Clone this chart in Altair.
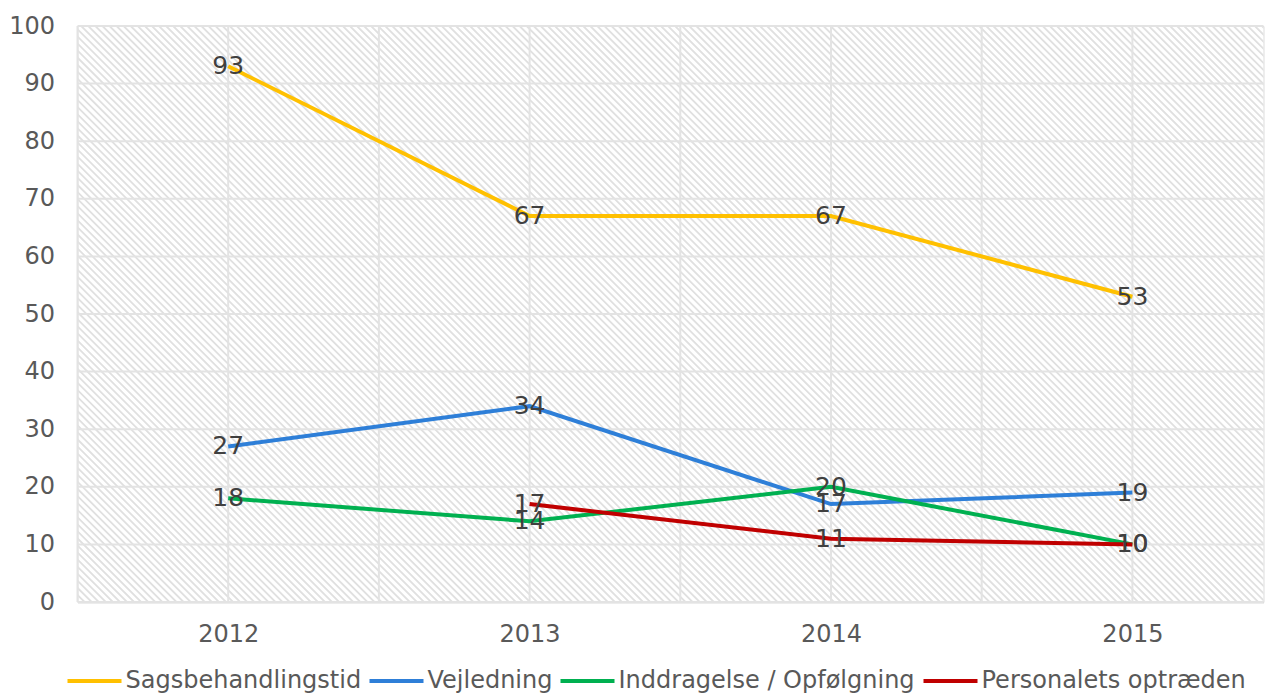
import altair as alt
import pandas as pd
import numpy as np

# ---- data ----
years = [2012, 2013, 2014, 2015]
series_names = ["Sagsbehandlingstid", "Vejledning", "Inddragelse / Opfølgning", "Personalets optræden"]
sagsbehandlingstid = [93, 67, 67, 53]
vejledning = [27, 34, 17, 19]
inddragelse = [18, 14, 20, 10]
personalets = [None, 17, 11, 10]
series_colors = ["#FFC000", "#2E7FD8", "#00B050", "#C00000"]
y_ticks = list(range(0, 101, 10))
x_grid = [2011.5, 2012, 2012.5, 2013, 2013.5, 2014, 2014.5, 2015]

rows = []
for name, vals in zip(series_names, [sagsbehandlingstid, vejledning, inddragelse, personalets]):
    for yr, v in zip(years, vals):
        if v is not None:
            rows.append({"year": yr, "series": name, "value": v, "order": series_names.index(name)})
df = pd.DataFrame(rows)

W, H = 1186, 576
FONT = "DejaVu Sans"
TXT = "#595959"

# ---- background hatch (decoration, pixel space) ----
step = 7.07
x0s = np.arange(-H, W + step, step)
hatch = pd.DataFrame({"hx": x0s, "hy": H, "hx2": x0s + H, "hy2": 0})
hatch_layer = alt.Chart(hatch).mark_rule(color="#e0e0e0", strokeWidth=1.8, clip=True).encode(
    x=alt.X("hx:Q", scale=alt.Scale(domain=[0, W], nice=False, zero=False), axis=None),
    y=alt.Y("hy:Q", scale=alt.Scale(domain=[0, H], nice=False, zero=False), axis=None),
    x2="hx2:Q",
    y2="hy2:Q",
)

xscale = alt.Scale(domain=[2011.5, 2015.435], nice=False, zero=False)
yscale = alt.Scale(domain=[0, 100], nice=False)
x_axis = alt.Axis(values=years, format="d", title=None, grid=False, ticks=False, tickSize=0,
                  domain=True, domainColor="#d9d9d9", domainWidth=2,
                  labelFontSize=24, labelColor=TXT, labelFont=FONT, labelPadding=20)
y_axis = alt.Axis(values=y_ticks, title=None, grid=False, ticks=False, tickSize=0, domain=False,
                  labelFontSize=24, labelColor=TXT, labelFont=FONT, labelPadding=23)

hgrid = alt.Chart(pd.DataFrame({"v": y_ticks})).mark_rule(color="#e3e3e3", strokeWidth=2).encode(
    y=alt.Y("v:Q", scale=yscale, axis=y_axis, title=None)
)
vgrid = alt.Chart(pd.DataFrame({"g": x_grid})).mark_rule(color="#e3e3e3", strokeWidth=2).encode(
    x=alt.X("g:Q", scale=xscale, axis=x_axis, title=None)
)

base = alt.Chart(df)
lines = base.mark_line(strokeWidth=4).encode(
    x=alt.X("year:Q", scale=xscale, axis=x_axis, title=None),
    y=alt.Y("value:Q", scale=yscale, axis=y_axis, title=None),
    color=alt.Color("series:N", scale=alt.Scale(domain=series_names, range=series_colors),
                    legend=alt.Legend(title=None, orient="none", direction="horizontal",
                                      legendX=-12, legendY=626, symbolType="stroke",
                                      symbolSize=2916, symbolStrokeWidth=4,
                                      labelFontSize=24, labelColor=TXT, labelFont=FONT,
                                      labelLimit=0, labelOffset=2, columnPadding=0, columns=4)),
    order="order:Q",
)
labels = base.mark_text(fontSize=25, font=FONT, color="#404040", align="center", baseline="middle").encode(
    x=alt.X("year:Q", scale=xscale, axis=x_axis, title=None),
    y=alt.Y("value:Q", scale=yscale, axis=y_axis, title=None),
    text=alt.Text("value:Q"),
)

inner = alt.layer(hgrid, vgrid, lines, labels)
chart = alt.layer(hatch_layer, inner).resolve_scale(x="independent", y="independent").properties(
    width=W, height=H, padding={"left": 0.5, "top": 6, "right": 0, "bottom": 0}
).configure_view(stroke=None).configure(background="white")

chart.save("out.html", embed_options={"renderer": "svg", "actions": False})
